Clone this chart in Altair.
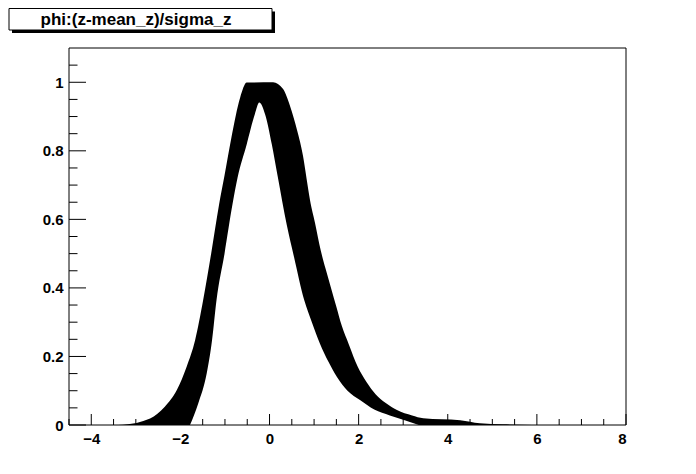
import altair as alt
import pandas as pd

# outer envelope of the scattered band (phi vs (z-mean_z)/sigma_z)
outer_x = [-3.51, -3.29, -2.68, -2.35, -2.08, -1.86, -1.67, -1.49, -1.31, -1.13, -1.01,
           -0.855, -0.66, -0.51, 0.08, 0.30, 0.46, 0.62, 0.75, 0.83, 0.91, 1.02, 1.15,
           1.26, 1.38, 1.50, 1.62, 1.78, 1.98, 2.18, 2.38, 2.60, 2.86, 3.20, 3.45,
           4.28, 4.72, 5.24, 6.45]
outer_y = [0.0, 0.001, 0.019, 0.053, 0.102, 0.170, 0.247, 0.364, 0.500, 0.645, 0.728,
           0.839, 0.955, 0.999, 1.0, 0.981, 0.931, 0.859, 0.786, 0.720, 0.655, 0.590,
           0.509, 0.455, 0.400, 0.345, 0.290, 0.235, 0.170, 0.125, 0.090, 0.065, 0.044,
           0.028, 0.020, 0.014, 0.005, 0.002, 0.0]
# inner (hollow) edge of the band
inner_x = [-1.785, -1.60, -1.41, -1.29, -1.19, -1.01, -0.83, -0.72, -0.51, -0.33, -0.23,
           -0.10, 0.05, 0.18, 0.39, 0.55, 0.78, 0.95, 1.13, 1.32, 1.51, 1.75, 2.03, 2.35,
           2.70, 3.05, 3.35]
inner_y = [0.0, 0.063, 0.150, 0.247, 0.364, 0.500, 0.645, 0.720, 0.820, 0.907, 0.941,
           0.907, 0.820, 0.728, 0.582, 0.490, 0.364, 0.300, 0.238, 0.185, 0.141, 0.100,
           0.073, 0.045, 0.028, 0.013, 0.0]

x_major = [-4, -2, 0, 2, 4, 6, 8]
x_minor = [-4.5, -3.5, -3, -2.5, -1.5, -1, -0.5, 0.5, 1, 1.5, 2.5, 3, 3.5, 4.5, 5, 5.5,
           6.5, 7, 7.5]
y_major = [0, 0.2, 0.4, 0.6, 0.8, 1.0]
y_minor = [0.05, 0.1, 0.15, 0.25, 0.3, 0.35, 0.45, 0.5, 0.55, 0.65, 0.7, 0.75, 0.85, 0.9,
           0.95, 1.05]
title_text = "phi:(z-mean_z)/sigma_z"

W, H = 557, 377
FONT = "Liberation Sans"

xs = alt.Scale(domain=[-4.5, 8], nice=False, zero=False)
ys = alt.Scale(domain=[0, 1.1], nice=False, zero=False)
xaxis = alt.Axis(values=x_major, ticks=False, domain=False, grid=False, format="~g",
                 labelFont=FONT, labelFontWeight="bold", labelFontSize=15,
                 labelPadding=6, labelColor="black", title=None)
yaxis = alt.Axis(values=y_major, ticks=False, domain=False, grid=False, format="~g",
                 labelFont=FONT, labelFontWeight="bold", labelFontSize=15,
                 labelPadding=6, labelColor="black", title=None)

X = alt.X("x:Q", scale=xs, axis=xaxis, title=None)
Y = alt.Y("y:Q", scale=ys, axis=yaxis, title=None)

outer = alt.Chart(pd.DataFrame({"x": outer_x, "y": outer_y})).mark_area(
    color="black", interpolate="monotone").encode(x=X, y=Y)
inner = alt.Chart(pd.DataFrame({"x": inner_x, "y": inner_y})).mark_area(
    color="white", interpolate="monotone", opacity=1).encode(x=X, y=Y)

xt_major = alt.Chart(pd.DataFrame({"x": x_major})).mark_rule(color="black").encode(
    x=X, y=alt.value(H), y2=alt.value(H - 11))
xt_minor = alt.Chart(pd.DataFrame({"x": x_minor})).mark_rule(color="black").encode(
    x=X, y=alt.value(H), y2=alt.value(H - 6))
yt_major = alt.Chart(pd.DataFrame({"y": y_major})).mark_rule(color="black").encode(
    y=Y, x=alt.value(0), x2=alt.value(17))
yt_minor = alt.Chart(pd.DataFrame({"y": y_minor})).mark_rule(color="black").encode(
    y=Y, x=alt.value(0), x2=alt.value(8.5))

one = alt.Data(values=[{"t": title_text}])
frame = alt.Chart(one).mark_rect(filled=False, stroke="black", strokeWidth=1).encode(
    x=alt.value(0), x2=alt.value(W), y=alt.value(0), y2=alt.value(H))
shadow = alt.Chart(one).mark_rect(color="black").encode(
    x=alt.value(-57), x2=alt.value(206), y=alt.value(-36.5), y2=alt.value(-15))
box = alt.Chart(one).mark_rect(fill="white", stroke="black", strokeWidth=1).encode(
    x=alt.value(-60), x2=alt.value(203), y=alt.value(-39.5), y2=alt.value(-18))
ttext = alt.Chart(one).mark_text(font=FONT, fontWeight="bold", fontSize=17,
                                 align="center", baseline="middle", color="black").encode(
    x=alt.value(67), y=alt.value(-28.5), text="t:N")

chart = alt.layer(outer, inner, xt_major, xt_minor, yt_major, yt_minor, frame,
                  shadow, box, ttext).properties(
    width=W, height=H,
    autosize=alt.AutoSizeParams(type="none"),
    padding={"left": 61, "top": 40, "right": 50, "bottom": 35},
    background="white",
).configure_view(stroke=None)

chart.save("out.html", embed_options={"renderer": "svg", "actions": False})
